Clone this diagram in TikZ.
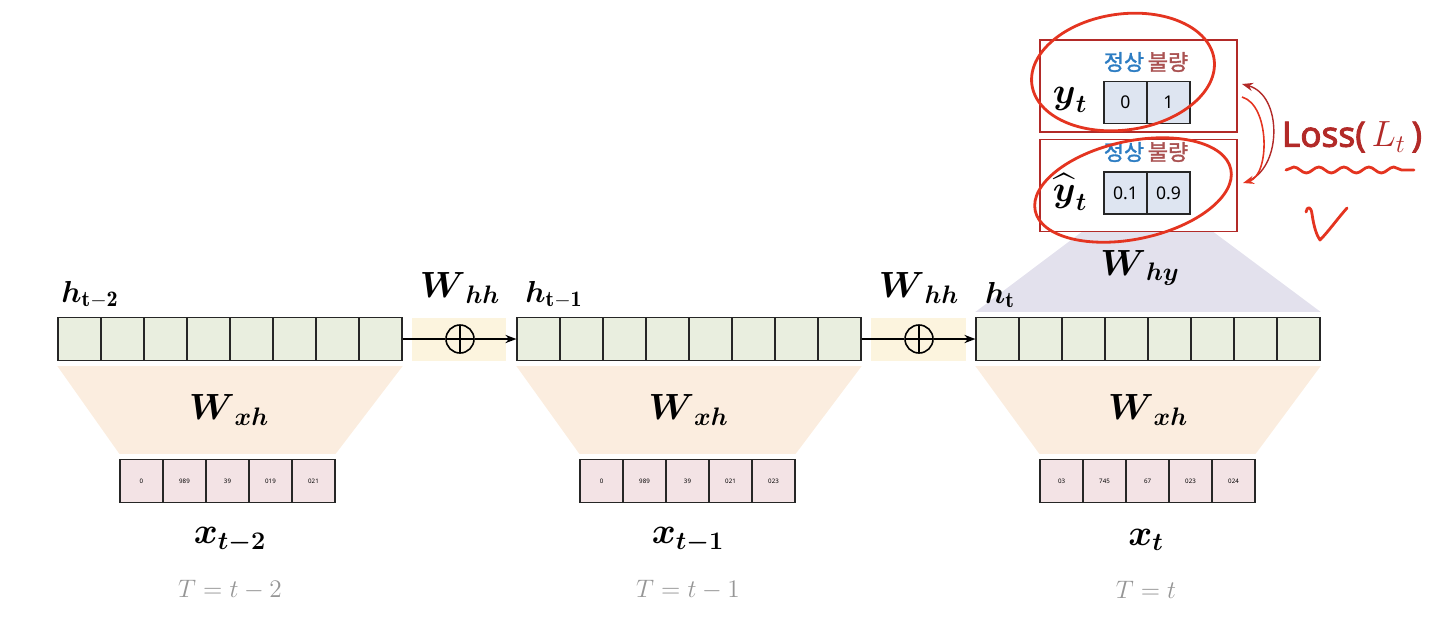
\documentclass[tikz,border=0pt]{standalone}
\usepackage{amsmath, amssymb}
\usepackage{fontspec}
\newfontfamily\krfont[FakeBold=1.5]{Noto Sans CJK KR}
\newfontfamily\numfont{Noto Sans}
\newfontfamily\lossfont[FakeBold=2.5]{Noto Sans}
\usetikzlibrary{arrows.meta, positioning, calc, decorations.pathmorphing}
\definecolor{hfill}{RGB}{233,238,223}
\definecolor{xfill}{RGB}{243,227,229}
\definecolor{yfill}{RGB}{222,229,241}
\definecolor{peach}{RGB}{251,237,223}
\definecolor{plusfill}{RGB}{252,244,222}
\definecolor{lavender}{RGB}{227,225,237}
\definecolor{boxred}{RGB}{178,42,40}
\definecolor{penred}{RGB}{228,52,32}
\definecolor{krblue}{RGB}{45,125,195}
\definecolor{krbrown}{RGB}{170,82,82}
\definecolor{tgray}{RGB}{150,150,150}
\tikzset{
    hcell/.style={rectangle, draw=black!85, fill=hfill, minimum width=0.86cm, minimum height=0.86cm, inner sep=0pt, line width=0.7pt},
    xcell/.style={rectangle, draw=black!85, fill=xfill, minimum width=0.86cm, minimum height=0.86cm, inner sep=0pt, line width=0.7pt, font=\numfont\fontsize{3.5}{4}\selectfont},
    ycell/.style={rectangle, draw=black!85, fill=yfill, minimum width=0.86cm, minimum height=0.84cm, inner sep=0pt, line width=0.7pt, font=\numfont\fontsize{10}{12}\selectfont},
    plusbox/.style={rectangle, fill=plusfill, minimum width=1.9cm, minimum height=0.86cm, inner sep=0pt},
    plusnode/.style={circle, draw, line width=0.9pt, minimum size=0.56cm, inner sep=0pt,
        path picture={\draw[line width=0.9pt] (path picture bounding box.north) -- (path picture bounding box.south)
            (path picture bounding box.west) -- (path picture bounding box.east);}},
    outbox/.style={rectangle, draw=boxred, fill=white, line width=1.1pt, minimum width=3.94cm, minimum height=1.84cm},
    wlabel/.style={font=\fontsize{20}{24}\selectfont},
    hlabel/.style={font=\fontsize{18}{22}\selectfont},
    xlabel/.style={font=\fontsize{22}{26}\selectfont},
    tlabel/.style={text=tgray, font=\fontsize{14}{16}\selectfont},
    krtext/.style={font=\krfont\fontsize{12.5}{14}\selectfont, inner sep=0pt},
    pen/.style={draw=penred, line width=1.6pt, line cap=round, line join=round}
}

\begin{document}
\begin{tikzpicture}[x=0.02cm, y=-0.02cm, >={Stealth[length=2.2mm]}]
  \useasboundingbox (0,0) rectangle (1442,620);
  % hidden vectors
  \foreach \k/\l in {0/58, 1/517, 2/976} {
    \foreach \i in {1,...,8}
      \node[hcell] (h\k-\i) at ({\l+21.5+43*(\i-1)}, 339) {};
  }
  % input vectors
  \foreach \v [count=\i] in {0, 989, 39, 019, 021}
    \node[xcell] (x0-\i) at ({120+21.5+43*(\i-1)}, 481) {\v};
  \foreach \v [count=\i] in {0, 989, 39, 021, 023}
    \node[xcell] (x1-\i) at ({580+21.5+43*(\i-1)}, 481) {\v};
  \foreach \v [count=\i] in {03, 745, 67, 023, 024}
    \node[xcell] (x2-\i) at ({1040+21.5+43*(\i-1)}, 481) {\v};
  % W_xh fans
  \foreach \k in {0,1,2} {
    \fill[peach] ([yshift=-0.1cm]h\k-1.south west) -- ([yshift=-0.1cm]h\k-8.south east)
      -- ([yshift=0.1cm]x\k-5.north east) -- ([yshift=0.1cm]x\k-1.north west) -- cycle;
    \node[wlabel] (wxh\k) at ($(h\k-4.south east)!0.5!(x\k-3.north)$) {$\boldsymbol{W}_{\boldsymbol{xh}}$};
  }
  % W_hy fan
  \coordinate (hyl) at (1095, 222);
  \coordinate (hyr) at (1200, 222);
  \fill[lavender] ([yshift=0.1cm]h2-1.north west) -- ([yshift=0.1cm]h2-8.north east) -- (hyr) -- (hyl) -- cycle;
  \node[wlabel] (why) at (1140, 268) {$\boldsymbol{W}_{\boldsymbol{hy}}$};
  % recurrent links
  \node[plusbox] (pb0) at (459, 339) {};
  \node[plusbox] (pb1) at (918, 339) {};
  \node[plusnode] (p0) at (460, 339) {};
  \node[plusnode] (p1) at (919, 339) {};
  \draw[line width=0.9pt] (h0-8.east) -- (p0.west);
  \draw[line width=0.9pt, ->] (p0.east) -- (h1-1.west);
  \draw[line width=0.9pt] (h1-8.east) -- (p1.west);
  \draw[line width=0.9pt, ->] (p1.east) -- (h2-1.west);
  \node[wlabel] (whh0) at (460, 288) {$\boldsymbol{W}_{\boldsymbol{hh}}$};
  \node[wlabel] (whh1) at (919, 288) {$\boldsymbol{W}_{\boldsymbol{hh}}$};
  \node[hlabel] (lh0) at (90, 295) {$\boldsymbol{h}_{\mathbf{t-2}}$};
  \node[hlabel] (lh1) at (554, 295) {$\boldsymbol{h}_{\mathbf{t-1}}$};
  \node[hlabel] (lh2) at (1000, 295) {$\boldsymbol{h}_{\mathbf{t}}$};
  % labels below
  \node[xlabel] (lx0) at (230, 540) {$\boldsymbol{x}_{\boldsymbol{t-2}}$};
  \node[xlabel] (lx1) at (688, 540) {$\boldsymbol{x}_{\boldsymbol{t-1}}$};
  \node[xlabel] (lx2) at (1146, 540) {$\boldsymbol{x}_{\boldsymbol{t}}$};
  \node[tlabel] (lt0) at (230, 590) {$T=t-2$};
  \node[tlabel] (lt1) at (688, 590) {$T=t-1$};
  \node[tlabel] (lt2) at (1146, 590) {$T=t$};
  % output boxes
  \node[outbox] (yb) at (1138.5, 86) {};
  \node[outbox] (yhb) at (1138.5, 185.5) {};
  \node[ycell] (y1) at (1125.5, 102.5) {0};
  \node[ycell] (y2) at (1168.5, 102.5) {1};
  \node[ycell] (yh1) at (1125.5, 193) {0.1};
  \node[ycell] (yh2) at (1168.5, 193) {0.9};
  \node[krtext, text=krblue] (k1) at (1124, 62) {정상};
  \node[krtext, text=krbrown] (k2) at (1168, 62) {불량};
  \node[krtext, text=krblue] (k3) at (1124, 152) {정상};
  \node[krtext, text=krbrown] (k4) at (1168, 152) {불량};
  \node[xlabel] (ly) at (1070, 100) {$\boldsymbol{y}_{\boldsymbol{t}}$};
  \node[xlabel, inner sep=1pt] (lyh) at (1070, 192) {$\widehat{\boldsymbol{y}}_{\boldsymbol{t}}$};
  % loss annotation
  \coordinate (a1) at (1250, 180);
  \coordinate (a2) at (1242, 84);
  \coordinate (a3) at (1242, 97);
  \coordinate (a4) at (1243, 183);
  \draw[boxred, line width=0.8pt, ->] (a1) .. controls (1282,165) and (1282,95) .. (a2);
  \draw[penred, line width=0.9pt, ->] (a3) .. controls (1270,105) and (1270,175) .. (a4);
  \node[text=boxred, font=\lossfont\fontsize{20}{24}\selectfont] (loss) at (1352, 137) {Loss(\,$L_t$\,)};
  \draw[pen, decorate, decoration={snake, segment length=0.5cm, amplitude=0.06cm}] (1286, 170) -- (1414, 170);
  \draw[pen] (1306,212) .. controls (1307,206) and (1311,206) .. (1312,214)
    .. controls (1314,228) and (1317,236) .. (1320,240)
    .. controls (1328,232) and (1338,218) .. (1347,208);
  \draw[pen, rotate around={8:(1123,72)}] (1123,72) ellipse (1.84cm and 1.16cm);
  \draw[pen, rotate around={12:(1133,190)}] (1133,190) ellipse (2cm and 0.98cm);
\end{tikzpicture}
\end{document}
